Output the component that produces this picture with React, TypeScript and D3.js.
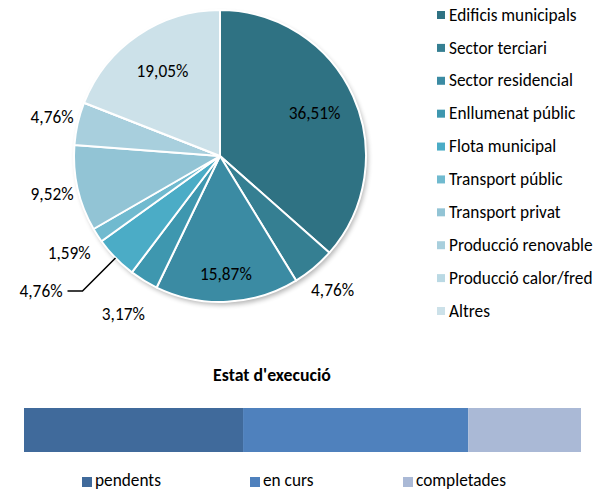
import React from "react";
import * as d3 from "d3";

const categories = [
  "Edificis municipals",
  "Sector terciari",
  "Sector residencial",
  "Enllumenat públic",
  "Flota municipal",
  "Transport públic",
  "Transport privat",
  "Producció renovable",
  "Producció calor/fred",
  "Altres",
];
const values = [36.51, 4.76, 15.87, 3.17, 4.76, 1.59, 9.52, 4.76, 0, 19.05];
const labels = ["36,51%", "4,76%", "15,87%", "3,17%", "4,76%", "1,59%", "9,52%", "4,76%", "", "19,05%"];
const pieColors = [
  "#2F7283", "#357F92", "#3B8BA3", "#3E97AF", "#4BACC6",
  "#70BACF", "#92C4D5", "#A8CFDD", "#BAD9E4", "#CCE1E9",
];

const statusNames = ["pendents", "en curs", "completades"];
const statusValues = [35, 36, 18];
const statusColors = ["#406A9B", "#4F81BD", "#AAB9D6"];
const title = "Estat d'execució";

const FONT = "Carlito, Calibri, Lato, sans-serif";

export default function App() {
  const W = 598, H = 490;
  const cx = 220, cy = 156, r = 146;

  const pie = d3.pie<number>().sort(null).value((d) => d)(values);
  const arc = d3.arc<d3.PieArcDatum<number>>().innerRadius(0).outerRadius(r);

  const labelMode = ["in", "out", "in", "out", "leader", "out", "out", "out", "none", "in"];
  const labelR = [0.71, 1.2, 0.81, 1.27, 1, 1.23, 1.18, 1.18, 1, 0.7];

  const xBar = d3.scaleLinear().domain([0, d3.sum(statusValues)]).range([24, 581]);
  const cum = d3.cumsum(statusValues);

  const legendY = d3.scaleLinear().domain([0, categories.length - 1]).range([15, 311]);
  const FS = 17.3;

  return (
    <svg width={W} height={H} style={{ position: "absolute", left: 0, top: 0, fontFamily: FONT }}>
      <defs>
        <filter id="sh" x="-20%" y="-20%" width="140%" height="140%">
          <feGaussianBlur in="SourceAlpha" stdDeviation="2.5" />
          <feOffset dx="1.5" dy="2.5" result="b" />
          <feComponentTransfer><feFuncA type="linear" slope="0.3" /></feComponentTransfer>
          <feMerge><feMergeNode /><feMergeNode in="SourceGraphic" /></feMerge>
        </filter>
      </defs>
      <g transform={`translate(${cx},${cy})`}>
        <circle r={r} fill="#fff" filter="url(#sh)" />
        {pie.map((p, i) => (
          <path key={i} d={arc(p) || ""} fill={pieColors[i]} stroke="#fff" strokeWidth={2} strokeLinejoin="round" />
        ))}
        {pie.map((p, i) => {
          const mode = labelMode[i];
          if (mode === "none") return null;
          const mid = (p.startAngle + p.endAngle) / 2;
          if (mode === "leader") {
            const x0 = Math.sin(mid) * r, y0 = -Math.cos(mid) * r;
            const x1 = x0 - 33, y1 = y0 + 33;
            const x2 = x1 - 15;
            return (
              <g key={i}>
                <path d={`M${x0},${y0}L${x1},${y1}L${x2},${y1}`} fill="none" stroke="#000" strokeWidth={1.5} />
                <text x={x2 - 5} y={y1} dy="0.33em" textAnchor="end" fontSize={FS} fill="#000">{labels[i]}</text>
              </g>
            );
          }
          const rr = r * labelR[i];
          const x = Math.sin(mid) * rr, y = -Math.cos(mid) * rr;
          return (
            <text key={i} x={x} y={y} dy="0.33em" textAnchor="middle" fontSize={FS} fill="#000">{labels[i]}</text>
          );
        })}
      </g>
      {categories.map((c, i) => (
        <g key={c} transform={`translate(437,${legendY(i)})`}>
          <rect x={0} y={-4} width={8} height={8} fill={pieColors[i]} />
          <text x={12} y={0} dy="0.33em" fontSize={FS} fill="#000">{c}</text>
        </g>
      ))}
      <text x={272} y={375} dy="0.33em" textAnchor="middle" fontSize={17.8} fontWeight="bold" fill="#000">{title}</text>
      {statusValues.map((v, i) => (
        <rect key={i} x={xBar(cum[i] - v)} y={408} width={xBar(cum[i]) - xBar(cum[i] - v)} height={44} fill={statusColors[i]} />
      ))}
      {statusNames.map((n, i) => {
        const lx = [82, 250, 403][i];
        return (
          <g key={n} transform={`translate(${lx},481)`}>
            <rect x={0} y={-4} width={10} height={10} fill={statusColors[i]} />
            <text x={13} y={0} dy="0.28em" fontSize={FS} fill="#000">{n}</text>
          </g>
        );
      })}
    </svg>
  );
}
